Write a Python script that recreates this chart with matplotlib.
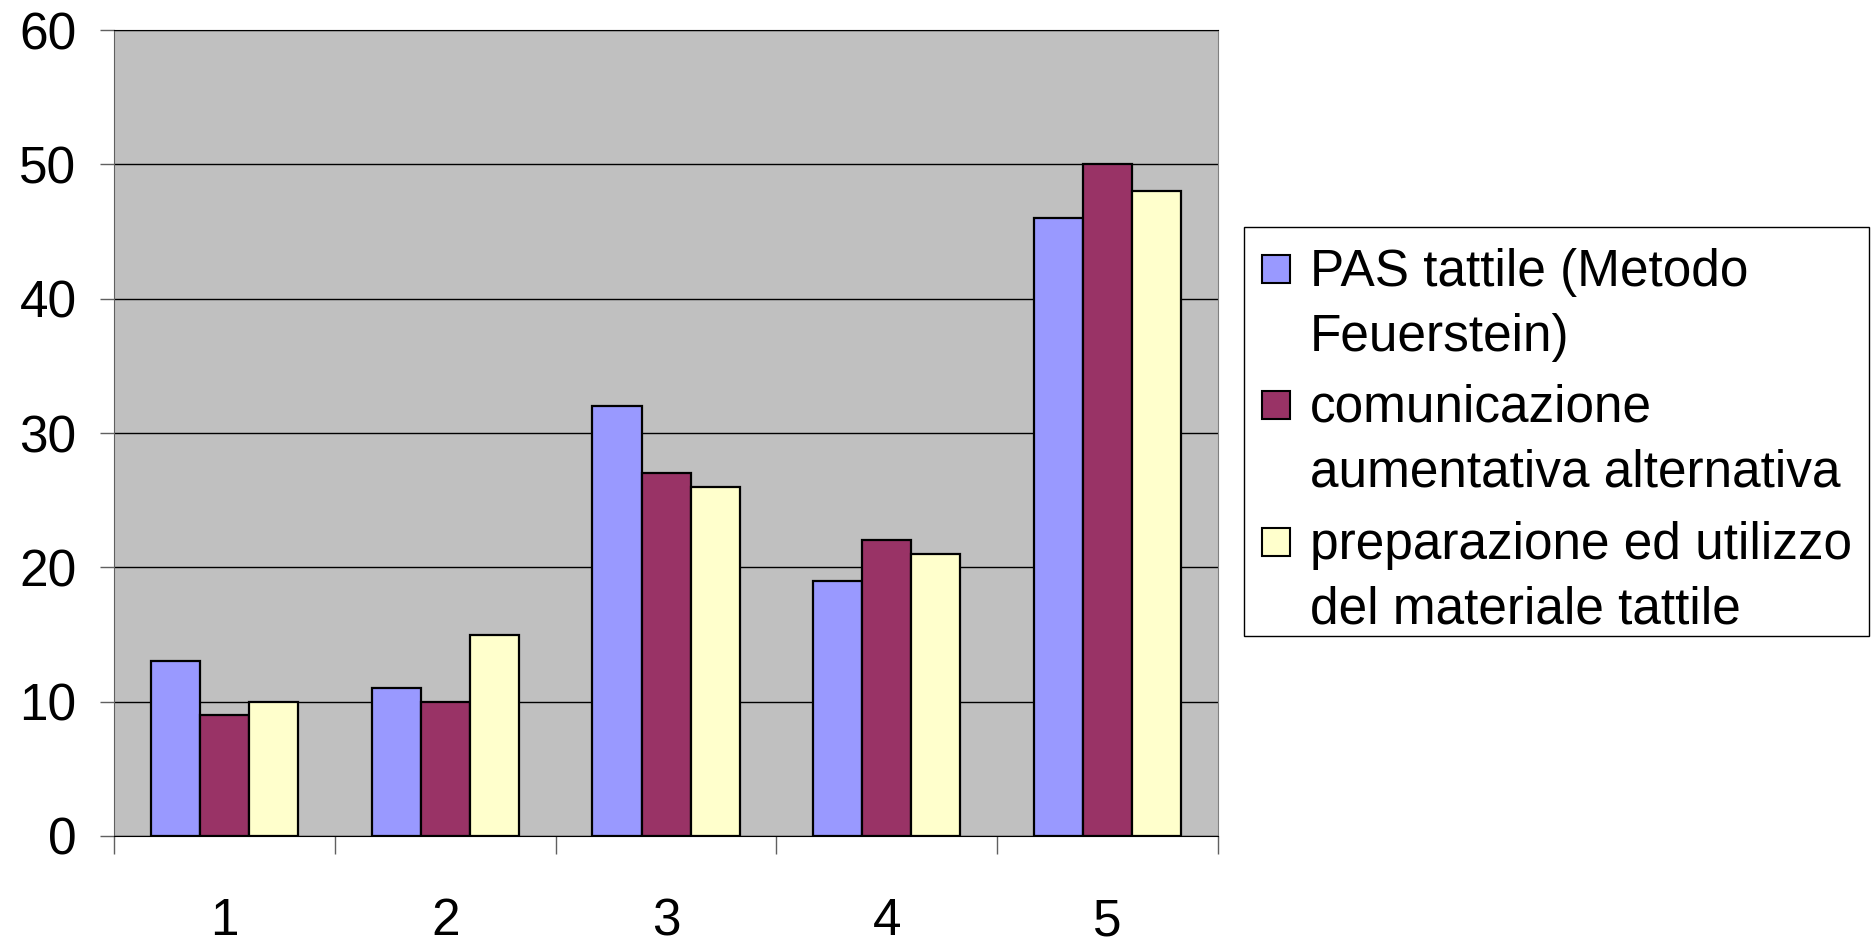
import numpy as np
import matplotlib
matplotlib.use("Agg")
import matplotlib.pyplot as plt
from matplotlib.patches import Rectangle

plt.rcParams['font.family'] = ['Liberation Sans', 'DejaVu Sans']

# dati
gruppi = ["1", "2", "3", "4", "5"]
serie = ["PAS tattile (Metodo\nFeuerstein)",
         "comunicazione\naumentativa alternativa",
         "preparazione ed utilizzo\ndel materiale tattile"]
pas = [13, 11, 32, 19, 46]
caa = [9, 10, 27, 22, 50]
materiale = [10, 15, 26, 21, 48]
colori = ["#9999FF", "#993366", "#FFFFCC"]

fig = plt.figure(figsize=(18.76, 9.39), dpi=100)
ax = fig.add_axes([0.0608, 0.1097, 0.5885, 0.8583])
ax.set_facecolor("#C0C0C0")

x = np.arange(1, len(gruppi) + 1)
w = 1 / 4.5
for i, (vals, col) in enumerate(zip([pas, caa, materiale], colori)):
    ax.bar(x + (i - 1) * w, vals, width=w, color=col, edgecolor="black",
           linewidth=1.6, zorder=3)

ax.set_xlim(0.5, 5.5)
ax.set_ylim(0, 60)
ax.set_yticks(range(0, 61, 10))
ax.yaxis.grid(True, color="black", linewidth=1)
ax.set_axisbelow(True)

ax.set_xticks(np.arange(0.5, 6, 1))
ax.set_xticklabels([])
ax.set_xticks(x, minor=True)
ax.set_xticklabels(gruppi, minor=True)
ax.tick_params(axis="x", which="major", length=13, color="#606060", width=1)
ax.tick_params(axis="x", which="minor", length=0, pad=44, labelsize=37)
ax.tick_params(axis="y", length=10, color="#606060", width=1, pad=17, labelsize=37)

ax.spines["left"].set_color("#606060")
ax.spines["bottom"].set_color("black")
ax.spines["right"].set_color("#808080")
ax.spines["top"].set_color("black")

# legenda
W, H = 1876, 939
def fx(px):
    return px / W
def fy(py):
    return 1 - py / H

fig.patches.append(Rectangle((fx(1244), fy(636)), fx(1869) - fx(1244), fy(227) - fy(636),
                             transform=fig.transFigure, facecolor="white",
                             edgecolor="black", linewidth=1))
centri = [269, 405, 542]
for lab, col, cy in zip(serie, colori, centri):
    fig.patches.append(Rectangle((fx(1262), fy(cy + 14)), fx(28), 28 / H,
                                 transform=fig.transFigure, facecolor=col,
                                 edgecolor="black", linewidth=1.5))
    fig.text(fx(1310), fy(cy - 21), lab, fontsize=37, va="top", ha="left",
             linespacing=1.42)

fig.savefig("out.png", dpi=100)
